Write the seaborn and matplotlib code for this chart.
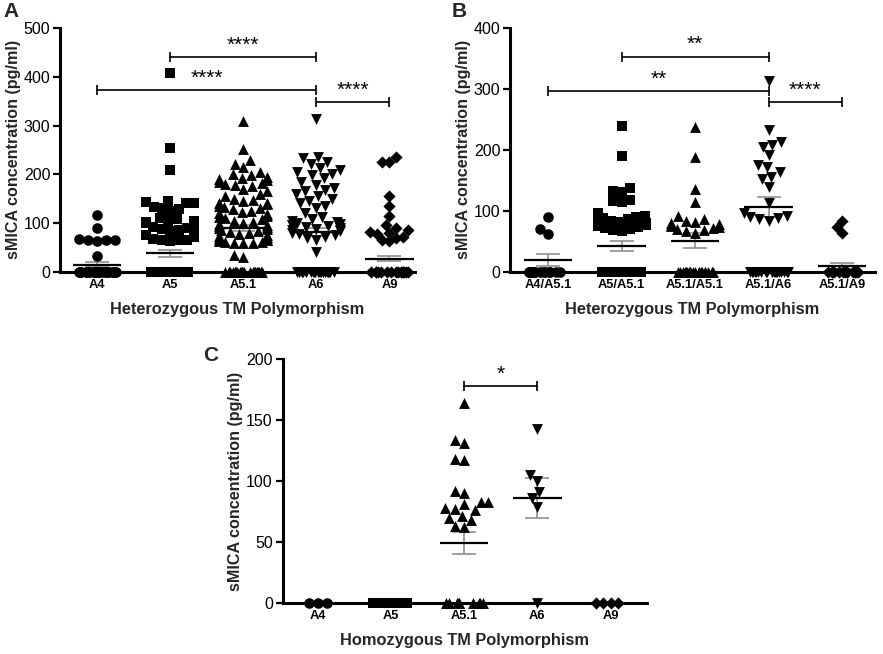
import warnings
import numpy as np
import pandas as pd
import seaborn as sns
import matplotlib.pyplot as plt

warnings.filterwarnings('ignore')
np.random.seed(7)

sns.set_theme(style='ticks')
plt.rcParams['font.family'] = ['Liberation Sans', 'DejaVu Sans']

# ---------------- Panel A: heterozygous, single allele ----------------
groups_a = ['A4', 'A5', 'A5.1', 'A6', 'A9']
a_A4 = [116, 89, 68, 66, 64, 66, 63, 33] + [0] * 25
a_A5 = [407, 253, 208, 145, 143, 142, 140, 132, 130, 128, 125, 110, 108, 105,
        104, 102, 100, 95, 92, 90, 88, 86, 84, 80, 76, 72, 68, 66, 65, 64, 62] + [0] * 40
a_A51 = [310, 252, 230, 222, 215, 205, 200, 198, 195, 192, 190, 188, 185, 182,
         180, 178, 175, 170, 165, 160, 155, 150, 148, 145, 142, 140, 138, 135,
         132, 130, 128, 125, 122, 120, 118, 115, 112, 110, 108, 105, 103, 100,
         98, 96, 94, 92, 90, 88, 86, 84, 82, 80, 78, 76, 74, 72, 70, 68, 66, 64,
         62, 60, 60, 59, 58, 58, 35, 30] + [0] * 30
a_A6 = [313, 236, 233, 225, 222, 212, 208, 205, 200, 198, 192, 185, 178, 172,
        168, 165, 160, 155, 150, 145, 140, 135, 130, 120, 112, 108, 105, 102,
        100, 98, 96, 95, 93, 92, 90, 88, 86, 85, 83, 80, 78, 75, 72, 70, 65, 40] + [0] * 30
a_A9 = [235, 226, 225, 155, 135, 115, 95, 90, 85, 82, 80, 78, 72, 70, 66, 62] + [0] * 15
means_a = [14, 38, 90, 82, 27]
sems_a = [5, 7.5, 6, 8, 5.5]

# ---------------- Panel B: heterozygous genotypes ----------------
groups_b = ['A4/A5.1', 'A5/A5.1', 'A5.1/A5.1', 'A5.1/A6', 'A5.1/A9']
b_1 = [90, 70, 62] + [0] * 15
b_2 = [240, 190, 137, 133, 131, 118, 116, 114, 96, 92, 90, 88, 86, 85, 84, 82,
       80, 78, 76, 75, 73, 72, 70, 68, 66] + [0] * 30
b_3 = [238, 188, 135, 115, 92, 86, 84, 82, 80, 78, 76, 75, 73, 72, 70, 68, 66, 64] + [0] * 22
b_4 = [313, 232, 213, 208, 205, 191, 175, 172, 164, 156, 152, 139, 113, 96, 92,
       90, 88, 86, 84] + [0] * 22
b_5 = [84, 74, 64] + [0] * 14
means_b = [19, 42, 51, 106, 9]
sems_b = [10, 8.5, 12, 17, 5]

# ---------------- Panel C: homozygous ----------------
groups_c = ['A4', 'A5', 'A5.1', 'A6', 'A9']
c_A4 = [0, 0, 0]
c_A5 = [0] * 16
c_A51 = [164, 134, 131, 118, 117, 92, 90, 83, 83, 81, 78, 77, 76, 71, 70, 68,
         63, 62] + [0] * 10
c_A6 = [143, 105, 100, 91, 86, 79, 0]
c_A9 = [0, 0, 0, 0]
means_c = [0, 0, 49, 86, 0]
sems_c = [0, 0, 9, 16.5, 0]

markers = ['o', 's', '^', 'v', 'D']
msizes = [7.6, 7.2, 7.8, 7.8, 6.2]


def draw_panel(ax, groups, values, means, sems, ymax, ystep, xlim, xlabel, brackets):
    df = pd.DataFrame([(g, v) for g, vals in zip(groups, values) for v in vals],
                      columns=['group', 'value'])
    xs = np.arange(len(groups))

    # SEM (grey) and mean lines (black) under the points
    show = np.array(means) > 0
    ax.errorbar(xs[show], np.array(means)[show], yerr=np.array(sems)[show],
                fmt='none', ecolor='#8f8f8f', elinewidth=1.2, capsize=8.5,
                capthick=1.2, zorder=1)
    ax.hlines(np.array(means)[show], xs[show] - 0.33, xs[show] + 0.33,
              color='black', lw=1.6, zorder=2)

    for g, m, s in zip(groups, markers, msizes):
        sub = df[df['group'] == g]
        zeros = sub[sub['value'] == 0]
        many_zeros = len(zeros) > 6
        swarm = sub[sub['value'] > 0] if many_zeros else sub
        if len(swarm):
            sns.swarmplot(data=swarm, x='group', y='value', order=groups,
                          marker=m, size=s, color='black', linewidth=0,
                          ax=ax, zorder=3)
        if many_zeros:
            # the pile of zero values, drawn as one dense row on the axis
            sns.stripplot(data=zeros, x='group', y='value', order=groups,
                          marker=m, size=s, color='black', linewidth=0,
                          jitter=0.27, ax=ax, zorder=3)
    for coll in ax.collections:
        coll.set_clip_on(False)

    # significance brackets
    for g1, g2, y, stars in brackets:
        x1, x2 = groups.index(g1), groups.index(g2)
        ax.plot([x1, x2], [y, y], color='black', lw=1.2, clip_on=False)
        ax.plot([x1, x2], [y, y], ls='none', marker='|', ms=7, mew=1.2,
                color='black', clip_on=False)
        ax.text((x1 + x2) / 2, y + ymax * 0.01, stars, ha='center', va='bottom',
                fontsize=15, color='black')

    ax.set_xlim(*xlim)
    ax.set_ylim(0, ymax)
    ax.set_yticks(np.arange(0, ymax + 1, ystep))
    sns.despine(ax=ax)
    for side in ['left', 'bottom']:
        ax.spines[side].set_linewidth(2.2)
        ax.spines[side].set_color('black')
    ax.tick_params(axis='y', direction='out', length=5, width=1.6, labelsize=11.5,
                   colors='black', pad=2)
    ax.tick_params(axis='x', length=0, labelsize=9.3, pad=5, colors='black')
    for lab in ax.get_xticklabels():
        lab.set_fontweight('bold')
    ax.set_xlabel(xlabel, fontsize=11.8, fontweight='bold', labelpad=8)
    ax.set_ylabel('sMICA concentration (pg/ml)', fontsize=11.6, fontweight='bold',
                  labelpad=2)
    ax.set_facecolor('white')


fig = plt.figure(figsize=(8.83, 6.54), dpi=100)
fig.patch.set_facecolor('white')

ax_a = fig.add_axes([0.068, 0.5846, 0.402, 0.3724])
ax_b = fig.add_axes([0.5776, 0.5846, 0.4134, 0.3724])
ax_c = fig.add_axes([0.320, 0.078, 0.413, 0.373])

draw_panel(ax_a, groups_a, [a_A4, a_A5, a_A51, a_A6, a_A9], means_a, sems_a,
           500, 100, (-0.51, 4.35), 'Heterozygous TM Polymorphism',
           [('A5', 'A6', 441, '****'), ('A4', 'A6', 372, '****'),
            ('A6', 'A9', 348, '****')])
draw_panel(ax_b, groups_b, [b_1, b_2, b_3, b_4, b_5], means_b, sems_b,
           400, 100, (-0.52, 4.45), 'Heterozygous TM Polymorphism',
           [('A5/A5.1', 'A5.1/A6', 353, '**'), ('A4/A5.1', 'A5.1/A6', 297, '**'),
            ('A5.1/A6', 'A5.1/A9', 278, '****')])
draw_panel(ax_c, groups_c, [c_A4, c_A5, c_A51, c_A6, c_A9], means_c, sems_c,
           200, 50, (-0.48, 4.5), 'Homozygous TM Polymorphism',
           [('A5.1', 'A6', 178, '*')])

fig.text(3 / 883, 1 - 2 / 654, 'A', fontsize=15, fontweight='bold', va='top')
fig.text(452 / 883, 1 - 2 / 654, 'B', fontsize=15, fontweight='bold', va='top')
fig.text(203 / 883, 1 - 346 / 654, 'C', fontsize=15, fontweight='bold', va='top')

# lay the swarms out once, then pack them a little tighter (Prism-style overlap)
fig.canvas.draw()
for ax in [ax_a, ax_b, ax_c]:
    for coll in ax.collections:
        if 'draw' in coll.__dict__:
            off = coll.get_offsets().copy()
            centre = np.round(off[:, 0])
            off[:, 0] = centre + (off[:, 0] - centre) * 0.82
            coll.set_offsets(off)
            del coll.draw

fig.savefig('out.png', dpi=100, facecolor='white')
